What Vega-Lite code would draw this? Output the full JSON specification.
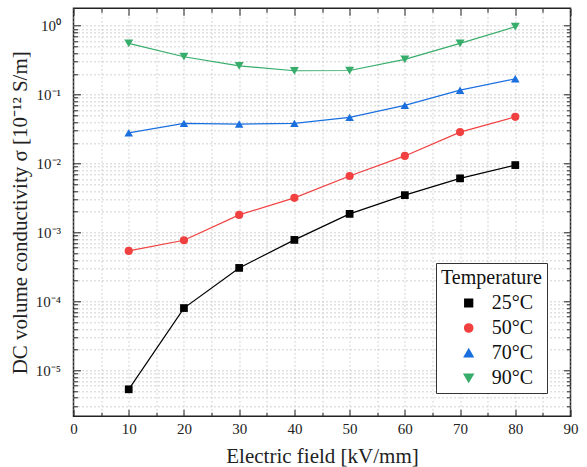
{
  "$schema": "https://vega.github.io/schema/vega-lite/v6.json",
  "width": 497,
  "height": 408,
  "autosize": "none",
  "padding": {"left": 73.5, "top": 8.3, "right": 16.5, "bottom": 50.7},
  "background": "white",
  "config": {
    "font": "Liberation Serif",
    "view": {"stroke": "#222", "strokeWidth": 1.5},
    "axis": {"labelFont": "Liberation Serif", "titleFont": "Liberation Serif", "labelColor": "#222", "titleColor": "#222", "titleFontWeight": "normal"},
    "legend": {"titleFont": "Liberation Serif", "labelFont": "Liberation Serif", "titleFontWeight": "normal"}
  },
  "data": {
    "values": [
      {"field": 10, "sigma": 0.0000053, "temp": "25°C"},
      {"field": 20, "sigma": 0.00008, "temp": "25°C"},
      {"field": 30, "sigma": 0.000306, "temp": "25°C"},
      {"field": 40, "sigma": 0.00078, "temp": "25°C"},
      {"field": 50, "sigma": 0.00186, "temp": "25°C"},
      {"field": 60, "sigma": 0.00348, "temp": "25°C"},
      {"field": 70, "sigma": 0.0061, "temp": "25°C"},
      {"field": 80, "sigma": 0.0095, "temp": "25°C"},
      {"field": 10, "sigma": 0.00054, "temp": "50°C"},
      {"field": 20, "sigma": 0.00077, "temp": "50°C"},
      {"field": 30, "sigma": 0.0018, "temp": "50°C"},
      {"field": 40, "sigma": 0.00318, "temp": "50°C"},
      {"field": 50, "sigma": 0.0066, "temp": "50°C"},
      {"field": 60, "sigma": 0.0129, "temp": "50°C"},
      {"field": 70, "sigma": 0.0286, "temp": "50°C"},
      {"field": 80, "sigma": 0.0477, "temp": "50°C"},
      {"field": 10, "sigma": 0.0279, "temp": "70°C"},
      {"field": 20, "sigma": 0.0383, "temp": "70°C"},
      {"field": 30, "sigma": 0.0374, "temp": "70°C"},
      {"field": 40, "sigma": 0.0383, "temp": "70°C"},
      {"field": 50, "sigma": 0.0468, "temp": "70°C"},
      {"field": 60, "sigma": 0.0698, "temp": "70°C"},
      {"field": 70, "sigma": 0.116, "temp": "70°C"},
      {"field": 80, "sigma": 0.17, "temp": "70°C"},
      {"field": 10, "sigma": 0.555, "temp": "90°C"},
      {"field": 20, "sigma": 0.355, "temp": "90°C"},
      {"field": 30, "sigma": 0.262, "temp": "90°C"},
      {"field": 40, "sigma": 0.222, "temp": "90°C"},
      {"field": 50, "sigma": 0.224, "temp": "90°C"},
      {"field": 60, "sigma": 0.325, "temp": "90°C"},
      {"field": 70, "sigma": 0.555, "temp": "90°C"},
      {"field": 80, "sigma": 0.967, "temp": "90°C"}
    ]
  },
  "layer": [
    {
      "mark": {"type": "line", "strokeWidth": 1.2},
      "encoding": {
        "x": {
          "field": "field", "type": "quantitative",
          "scale": {"domain": [0, 90], "nice": false, "zero": false},
          "axis": {
            "orient": "bottom",
            "title": "Electric field [kV/mm]",
            "titleFontSize": 21,
            "titlePadding": 6,
            "values": [0, 5, 10, 15, 20, 25, 30, 35, 40, 45, 50, 55, 60, 65, 70, 75, 80, 85, 90],
            "labelExpr": "datum.value % 10 == 0 ? datum.label : ''",
            "labelFontSize": 15,
            "labelPadding": 12,
            "labelFlush": false,
            "labelOverlap": false,
            "domain": false,
            "tickColor": "#222",
            "tickWidth": 1,
            "tickSize": {"condition": {"test": "datum.value % 10 == 0", "value": -7}, "value": -4},
            "grid": true,
            "gridColor": "#c8c8c8",
            "gridDash": [2, 2],
            "gridWidth": 0.8
          }
        },
        "y": {
          "field": "sigma", "type": "quantitative",
          "scale": {"type": "log", "domain": [0.00000215, 1.79], "nice": false},
          "axis": {
            "orient": "left",
            "title": "DC volume conductivity σ [10⁻¹² S/m]",
            "titleFontSize": 21,
            "titlePadding": 5,
            "values": [0.000003, 0.000004, 0.000005, 0.000006, 0.000007, 0.000008, 0.000009,
                       0.00001, 0.00002, 0.00003, 0.00004, 0.00005, 0.00006, 0.00007, 0.00008, 0.00009,
                       0.0001, 0.0002, 0.0003, 0.0004, 0.0005, 0.0006, 0.0007, 0.0008, 0.0009,
                       0.001, 0.002, 0.003, 0.004, 0.005, 0.006, 0.007, 0.008, 0.009,
                       0.01, 0.02, 0.03, 0.04, 0.05, 0.06, 0.07, 0.08, 0.09,
                       0.1, 0.2, 0.3, 0.4, 0.5, 0.6, 0.7, 0.8, 0.9, 1],
            "labelExpr": "abs(log(datum.value)/LN10 - round(log(datum.value)/LN10)) < 0.001 ? '10' + ['⁰','⁻¹','⁻²','⁻³','⁻⁴','⁻⁵','⁻⁶'][-round(log(datum.value)/LN10)] : ''",
            "labelFontSize": 15,
            "labelPadding": 20,
            "labelFlush": false,
            "labelOverlap": false,
            "domain": false,
            "tickColor": "#222",
            "tickWidth": 1,
            "tickSize": {"condition": {"test": "abs(log(datum.value)/LN10 - round(log(datum.value)/LN10)) < 0.001", "value": -7}, "value": -4},
            "grid": true,
            "gridColor": "#c8c8c8",
            "gridDash": [2, 2],
            "gridWidth": 0.8
          }
        },
        "color": {
          "field": "temp", "type": "nominal",
          "scale": {"domain": ["25°C", "50°C", "70°C", "90°C"], "range": ["#000000", "#F14040", "#1A6FDF", "#37AD6B"]},
          "legend": {
            "title": "Temperature",
            "orient": "none",
            "legendX": 362.5,
            "legendY": 254.7,
            "titleFont": "Liberation Serif",
            "titleFontSize": 20,
            "titleFontWeight": "normal",
            "titleColor": "#111",
            "titlePadding": 5,
            "labelFont": "Liberation Serif",
            "labelFontSize": 20,
            "labelColor": "#111",
            "symbolSize": 64,
            "symbolOffset": 17.7,
            "labelOffset": 13,
            "rowPadding": 5,
            "padding": 5,
            "strokeColor": "#333",
            "fillColor": "white",
            "cornerRadius": 0
          }
        }
      }
    },
    {
      "mark": {"type": "point", "filled": true, "opacity": 1},
      "encoding": {
        "x": {"field": "field", "type": "quantitative", "axis": null},
        "y": {"field": "sigma", "type": "quantitative", "axis": null},
        "color": {"field": "temp", "type": "nominal"},
        "shape": {
          "field": "temp", "type": "nominal",
          "scale": {"domain": ["25°C", "50°C", "70°C", "90°C"], "range": ["square", "circle", "triangle-up", "triangle-down"]},
          "legend": null
        },
        "size": {
          "field": "temp", "type": "nominal",
          "scale": {"domain": ["25°C", "50°C", "70°C", "90°C"], "range": [60, 80, 95, 95]},
          "legend": null
        }
      }
    },
    {
      "mark": {"type": "point", "opacity": 0},
      "encoding": {
        "x": {
          "field": "field", "type": "quantitative",
          "axis": {
            "orient": "top", "title": null, "labels": false, "domain": false, "grid": false,
            "values": [0, 5, 10, 15, 20, 25, 30, 35, 40, 45, 50, 55, 60, 65, 70, 75, 80, 85, 90],
            "tickColor": "#222", "tickWidth": 1,
            "tickSize": {"condition": {"test": "datum.value % 10 == 0", "value": -7}, "value": -4}
          }
        },
        "y": {
          "field": "sigma", "type": "quantitative",
          "axis": {
            "orient": "right", "title": null, "labels": false, "domain": false, "grid": false,
            "values": [0.000003, 0.000004, 0.000005, 0.000006, 0.000007, 0.000008, 0.000009,
                       0.00001, 0.00002, 0.00003, 0.00004, 0.00005, 0.00006, 0.00007, 0.00008, 0.00009,
                       0.0001, 0.0002, 0.0003, 0.0004, 0.0005, 0.0006, 0.0007, 0.0008, 0.0009,
                       0.001, 0.002, 0.003, 0.004, 0.005, 0.006, 0.007, 0.008, 0.009,
                       0.01, 0.02, 0.03, 0.04, 0.05, 0.06, 0.07, 0.08, 0.09,
                       0.1, 0.2, 0.3, 0.4, 0.5, 0.6, 0.7, 0.8, 0.9, 1],
            "tickColor": "#222", "tickWidth": 1,
            "tickSize": {"condition": {"test": "abs(log(datum.value)/LN10 - round(log(datum.value)/LN10)) < 0.001", "value": -7}, "value": -4}
          }
        }
      }
    }
  ],
  "resolve": {"axis": {"x": "independent", "y": "independent"}}
}
